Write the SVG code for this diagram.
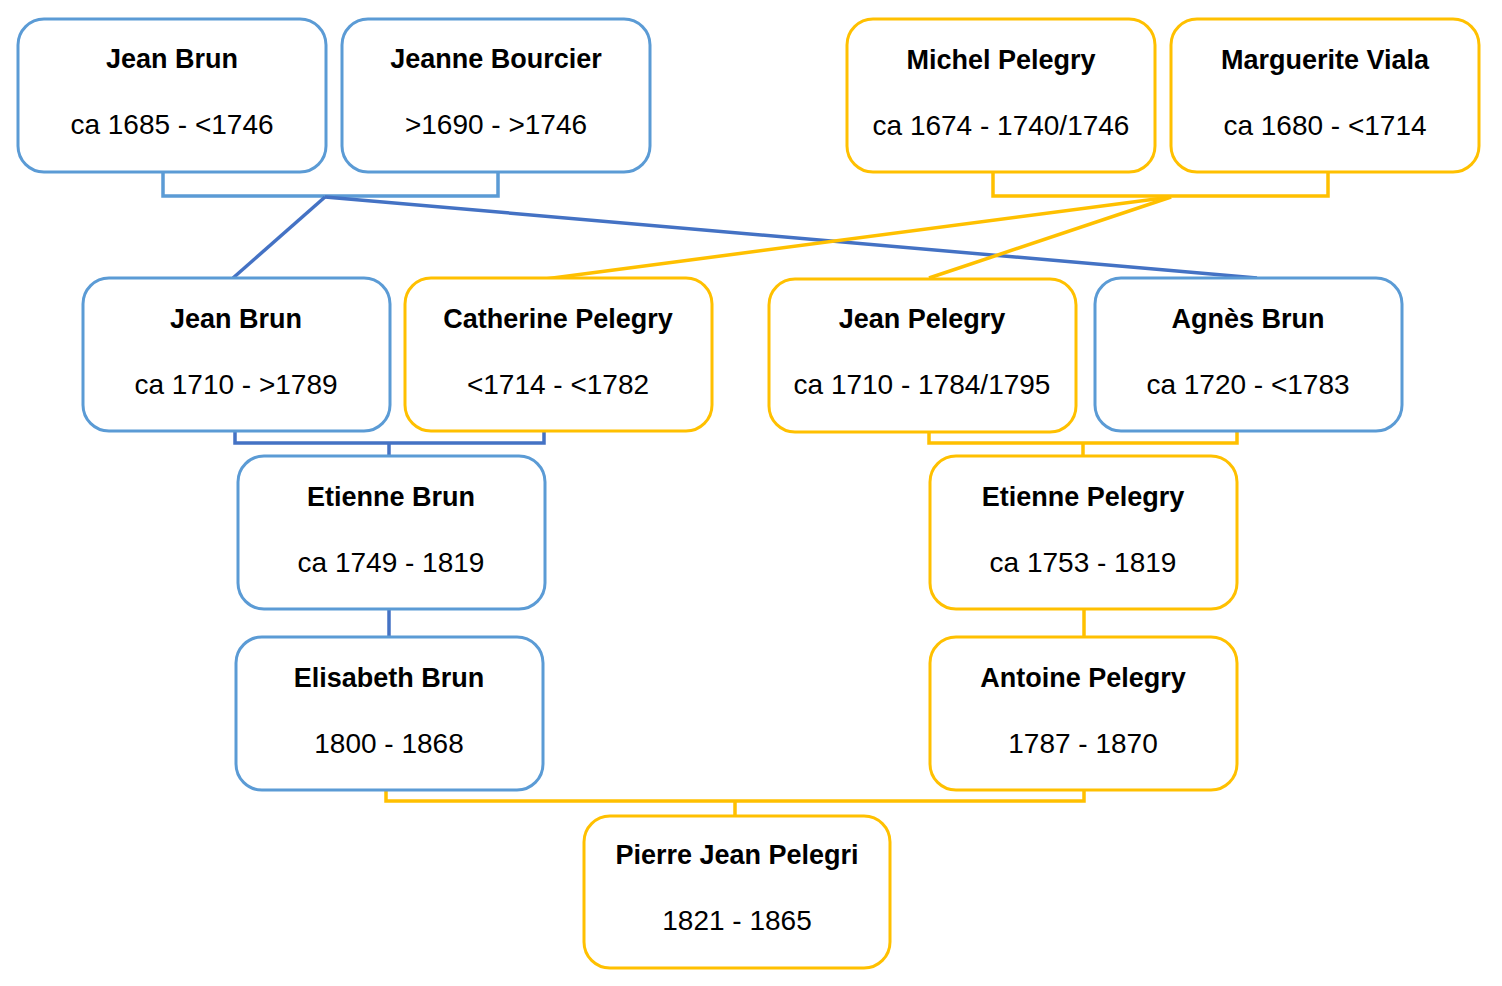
<svg xmlns="http://www.w3.org/2000/svg" width="1502" height="986" viewBox="0 0 1502 986">
<style>
.box{fill:#fff;stroke-width:3}
.b{stroke:#5B9BD5}
.y{stroke:#FFC000}
.t{font-family:"Liberation Sans",Arial,sans-serif;font-weight:bold;font-size:27px;fill:#000;text-anchor:middle}
.d{font-family:"Liberation Sans",Arial,sans-serif;font-size:28px;fill:#000;text-anchor:middle}
.cb{fill:none;stroke:#4472C4;stroke-width:3.5}
.cl{fill:none;stroke:#5B9BD5;stroke-width:3.5}
.cy{fill:none;stroke:#FFC000;stroke-width:3.5}
</style>
<rect width="1502" height="986" fill="#fff"/>
<g id="connectors">
<path class="cl" d="M163,172 V196 H498 V172"/>
<path class="cy" d="M993,172 V196 H1328 V172"/>
<path class="cb" d="M325,197 L233,278"/>
<path class="cb" d="M325,197 L1257,278"/>
<path class="cy" d="M1171,197 L545,279"/>
<path class="cy" d="M1171,197 L929,278"/>
<path class="cb" d="M235,431 V443 H544 V431 M389,443 V456"/>
<path class="cy" d="M929,431 V443 H1237 V431 M1083,443 V456"/>
<path class="cb" d="M389,609 V637"/>
<path class="cy" d="M1084,609 V637"/>
<path class="cy" d="M386,790 V801 H1084 V790 M735,801 V816"/>
</g>
<g id="jean-brun-1685"><rect class="box b" x="18" y="19" width="308" height="153" rx="26"/><text class="t" x="172" y="68">Jean Brun</text><text class="d" x="172" y="134">ca 1685 - &lt;1746</text></g>
<g id="jeanne-bourcier"><rect class="box b" x="342" y="19" width="308" height="153" rx="26"/><text class="t" x="496" y="68">Jeanne Bourcier</text><text class="d" x="496" y="134">&gt;1690 - &gt;1746</text></g>
<g id="michel-pelegry"><rect class="box y" x="847" y="19" width="308" height="153" rx="26"/><text class="t" x="1001" y="69">Michel Pelegry</text><text class="d" x="1001" y="135">ca 1674 - 1740/1746</text></g>
<g id="marguerite-viala"><rect class="box y" x="1171" y="19" width="308" height="153" rx="26"/><text class="t" x="1325" y="69">Marguerite Viala</text><text class="d" x="1325" y="135">ca 1680 - &lt;1714</text></g>
<g id="jean-brun-1710"><rect class="box b" x="83" y="278" width="307" height="153" rx="26"/><text class="t" x="236" y="328">Jean Brun</text><text class="d" x="236" y="394">ca 1710 - &gt;1789</text></g>
<g id="catherine-pelegry"><rect class="box y" x="405" y="278" width="307" height="153" rx="26"/><text class="t" x="558" y="328">Catherine Pelegry</text><text class="d" x="558" y="394">&lt;1714 - &lt;1782</text></g>
<g id="jean-pelegry"><rect class="box y" x="769" y="279" width="307" height="153" rx="26"/><text class="t" x="922" y="328">Jean Pelegry</text><text class="d" x="922" y="394">ca 1710 - 1784/1795</text></g>
<g id="agnes-brun"><rect class="box b" x="1095" y="278" width="307" height="153" rx="26"/><text class="t" x="1248" y="328">Agnès Brun</text><text class="d" x="1248" y="394">ca 1720 - &lt;1783</text></g>
<g id="etienne-brun"><rect class="box b" x="238" y="456" width="307" height="153" rx="26"/><text class="t" x="391" y="506">Etienne Brun</text><text class="d" x="391" y="572">ca 1749 - 1819</text></g>
<g id="etienne-pelegry"><rect class="box y" x="930" y="456" width="307" height="153" rx="26"/><text class="t" x="1083" y="506">Etienne Pelegry</text><text class="d" x="1083" y="572">ca 1753 - 1819</text></g>
<g id="elisabeth-brun"><rect class="box b" x="236" y="637" width="307" height="153" rx="26"/><text class="t" x="389" y="687">Elisabeth Brun</text><text class="d" x="389" y="753">1800 - 1868</text></g>
<g id="antoine-pelegry"><rect class="box y" x="930" y="637" width="307" height="153" rx="26"/><text class="t" x="1083" y="687">Antoine Pelegry</text><text class="d" x="1083" y="753">1787 - 1870</text></g>
<g id="pierre-jean-pelegri"><rect class="box y" x="584" y="816" width="306" height="152" rx="26"/><text class="t" x="737" y="864">Pierre Jean Pelegri</text><text class="d" x="737" y="930">1821 - 1865</text></g>
</svg>
